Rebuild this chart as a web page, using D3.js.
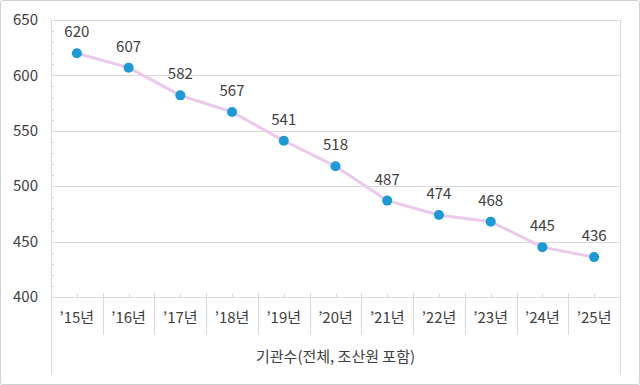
<!DOCTYPE html>
<html>
<head>
<meta charset="utf-8">
<script src="https://cdn.jsdelivr.net/npm/d3@7"></script>
<style>
  body { margin: 0; background: #fff; }
  svg text { font-family: "Noto Sans CJK KR", "Noto Sans", sans-serif; fill: #404040; }
</style>
</head>
<body>
<script>
const width = 640;
const height = 385;

const years = ["’15년", "’16년", "’17년", "’18년", "’19년", "’20년", "’21년", "’22년", "’23년", "’24년", "’25년"];
const counts = [620, 607, 582, 567, 541, 518, 487, 474, 468, 445, 436];
const yTicks = [400, 450, 500, 550, 600, 650];
const axisTitle = "기관수(전체, 조산원 포함)";

const margin = { left: 51, right: 20, top: 20, bottom: 88 };

const svg = d3.select("body").append("svg")
  .attr("width", width)
  .attr("height", height);

// outer frame
svg.append("rect")
  .attr("x", 0.5).attr("y", 0.5)
  .attr("width", width - 1).attr("height", height - 1)
  .attr("rx", 2)
  .attr("fill", "#fff").attr("stroke", "#d0d0d0");

const x = d3.scaleBand()
  .domain(years)
  .range([margin.left, width - margin.right]);

const y = d3.scaleLinear()
  .domain([400, 650])
  .range([297, 20]);

// gridlines
svg.append("g")
  .selectAll("line")
  .data(yTicks)
  .join("line")
  .attr("x1", margin.left).attr("x2", width - margin.right)
  .attr("y1", d => Math.round(y(d)) + 0.5).attr("y2", d => Math.round(y(d)) + 0.5)
  .attr("stroke", "#d9d9d9");

// y minor ticks
svg.append("g")
  .selectAll("line")
  .data(d3.range(410, 650, 10).filter(d => d % 50 !== 0))
  .join("line")
  .attr("x1", margin.left).attr("x2", margin.left + 3)
  .attr("y1", d => Math.round(y(d)) + 0.5).attr("y2", d => Math.round(y(d)) + 0.5)
  .attr("stroke", "#d9d9d9");

// y labels
svg.append("g")
  .selectAll("text")
  .data(yTicks)
  .join("text")
  .attr("x", 38)
  .attr("y", d => y(d))
  .attr("dy", "0.35em")
  .attr("text-anchor", "end")
  .attr("font-size", 15)
  .text(d => d);

// left and right frame lines of plot
svg.append("line")
  .attr("x1", margin.left + 0.5).attr("x2", margin.left + 0.5)
  .attr("y1", 20).attr("y2", 375)
  .attr("stroke", "#d9d9d9");
svg.append("line")
  .attr("x1", width - margin.right + 0.5).attr("x2", width - margin.right + 0.5)
  .attr("y1", 20).attr("y2", 375)
  .attr("stroke", "#d9d9d9");

// category separators
svg.append("g")
  .selectAll("line")
  .data(years.slice(1))
  .join("line")
  .attr("x1", d => Math.round(x(d)) + 0.5).attr("x2", d => Math.round(x(d)) + 0.5)
  .attr("y1", 293).attr("y2", 335)
  .attr("stroke", "#d9d9d9");

// x minor ticks
svg.append("g")
  .selectAll("line")
  .data(years)
  .join("line")
  .attr("x1", d => Math.round(x(d) + x.bandwidth() / 2) + 0.5)
  .attr("x2", d => Math.round(x(d) + x.bandwidth() / 2) + 0.5)
  .attr("y1", 294).attr("y2", 297)
  .attr("stroke", "#d9d9d9");

// x labels
svg.append("g")
  .selectAll("text")
  .data(years)
  .join("text")
  .attr("x", d => x(d) + x.bandwidth() / 2)
  .attr("y", 323)
  .attr("text-anchor", "middle")
  .attr("font-size", 15)
  .text(d => d);

svg.append("text")
  .attr("x", (margin.left + width - margin.right) / 2)
  .attr("y", 362)
  .attr("text-anchor", "middle")
  .attr("font-size", 15)
  .text(axisTitle);

// line
const line = d3.line()
  .x((d, i) => x(years[i]) + x.bandwidth() / 2)
  .y(d => y(d));

svg.append("path")
  .datum(counts)
  .attr("fill", "none")
  .attr("stroke", "#ecc8ec")
  .attr("stroke-width", 3)
  .attr("stroke-linejoin", "round")
  .attr("d", line);

svg.append("g")
  .selectAll("circle")
  .data(counts)
  .join("circle")
  .attr("cx", (d, i) => x(years[i]) + x.bandwidth() / 2)
  .attr("cy", d => y(d))
  .attr("r", 5)
  .attr("fill", "#1a9ad6");

svg.append("g")
  .selectAll("text")
  .data(counts)
  .join("text")
  .attr("x", (d, i) => x(years[i]) + x.bandwidth() / 2)
  .attr("y", d => y(d) - 16)
  .attr("text-anchor", "middle")
  .attr("font-size", 15)
  .text(d => d);
</script>
</body>
</html>
